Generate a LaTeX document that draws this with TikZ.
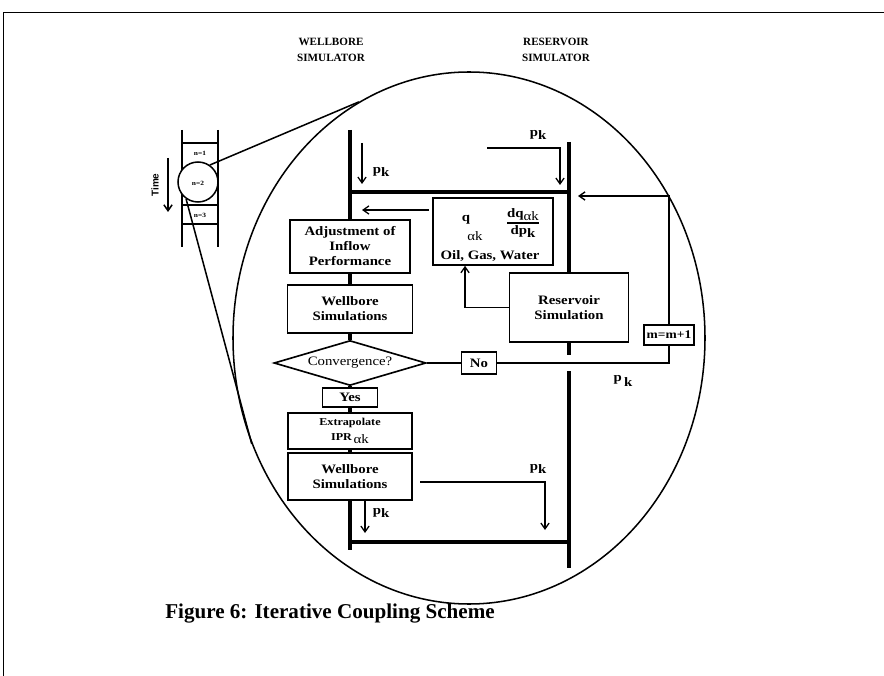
\documentclass[tikz,border=0pt]{standalone}
\usepackage{fontspec}
\setmainfont{Liberation Serif}
\setsansfont{Liberation Sans}
\newfontfamily\boxfont[FakeStretch=1.15]{Liberation Serif}
\usetikzlibrary{shapes.geometric,arrows.meta,calc}
\newcommand{\pk}{p\raisebox{-0.6ex}{k}}
\newcommand{\ak}{\raisebox{-0.7ex}{\mdseries\fontsize{11}{11}\selectfont αk}}

\begin{document}
\begin{tikzpicture}[x=0.03cm,y=-0.03cm,
    pipe/.style={line width=3.2pt},
    wire/.style={line width=1.2pt},
    arr/.style={line width=1.1pt,-{Straight Barb[length=5pt,width=7pt]}},
    sz/.style 2 args={minimum width=#1*0.03cm,minimum height=#2*0.03cm},
    flowbox/.style={draw,line width=1.4pt,fill=white,inner sep=0pt,align=center,
      font=\boxfont\bfseries\fontsize{11}{12.8}\selectfont},
    lbl/.style={inner sep=0pt,font=\boxfont\bfseries\fontsize{11}{12}\selectfont},
    head/.style={inner sep=0pt,align=center,font=\bfseries\fontsize{9.5}{13.5}\selectfont},
    tinylbl/.style={inner sep=0pt,font=\boxfont\bfseries\fontsize{5.5}{6}\selectfont}]

  \useasboundingbox (0,0) rectangle (884,676);
  % frame
  \draw[line width=0.8pt] (3,676) -- (3,12) -- (884,12);

  % column titles
  \node[head] (wbhead) at (331,50) {WELLBORE\\SIMULATOR};
  \node[head] (rshead) at (556,50) {RESERVOIR\\SIMULATOR};

  % zoomed view
  \node[draw,ellipse,line width=1.3pt,inner sep=0pt,sz={472}{532}] (zoomell) at (469,338) {};

  % time steps
  \draw[line width=1.3pt] (182,130) -- (182,247) (218,130) -- (218,247);
  \draw[line width=1.3pt] (182,143) -- (218,143) (182,205) -- (218,205) (182,224) -- (218,224);
  \node[tinylbl] (n1) at (200,153) {n=1};
  \node[draw,circle,fill=white,line width=1.3pt,inner sep=0pt,sz={40}{40}] (stepcirc) at (198,182) {};
  \node[tinylbl] (n2) at (198,183) {n=2};
  \node[tinylbl] (n3) at (200,215) {n=3};
  \draw[line width=1.3pt] (stepcirc.55) -- (zoomell.115);
  \draw[line width=1.3pt] (stepcirc.235) -- (zoomell.206);

  \coordinate (ttop) at (168,158);
  \coordinate (tbot) at (168,212);
  \draw[arr,line width=1.3pt] (ttop) -- (tbot);
  \node[rotate=90,inner sep=0pt,font=\sffamily\bfseries\fontsize{8.5}{9}\selectfont] (timelbl) at (155,185) {Time};

  % wellbore side
  \node[flowbox,sz={120}{53}] (adj) at (350,246.5) {Adjustment of\\Inflow\\Performance};
  \node[flowbox,sz={125}{48}] (wbs1) at (350,309) {Wellbore\\Simulations};
  \node[draw,diamond,aspect=3.4,line width=1.4pt,fill=white,inner sep=0pt,sz={152}{45},
        font=\boxfont\fontsize{11}{12}\selectfont] (conv) at (350,363) {Convergence?};
  \node[flowbox,sz={55}{19}] (yes) at (350,397.5) {Yes};
  \node[flowbox,sz={124}{36},font=\boxfont\bfseries\fontsize{9}{13}\selectfont] (extra) at (350,431) {Extrapolate\\IPR\,\ak};
  \node[flowbox,sz={124}{47}] (wbs2) at (350,476.5) {Wellbore\\Simulations};

  % reservoir side
  \node[flowbox,sz={120}{67}] (flux) at (493,231.5) {};
  \node[lbl] (qflux) at (466,220) {q};
  \node[inner sep=0pt,font=\boxfont\fontsize{11}{12}\selectfont] (qsub) at (475,236) {αk};
  \node[inner sep=0pt] (dfrac) at (523,223)
    {$\hbox{\boxfont\bfseries\fontsize{11}{12}\selectfont dq\raisebox{-0.5ex}{\mdseries αk}}\above1.2pt
      \hbox{\boxfont\bfseries\fontsize{11}{12}\selectfont dp\raisebox{-0.5ex}{k}}$};
  \node[lbl] (fluids) at (490,256) {Oil, Gas, Water};
  \node[flowbox,sz={119}{69}] (res) at (569,307.5) {Reservoir\\Simulation};
  \node[flowbox,sz={35}{22}] (no) at (479,363) {No};
  \node[flowbox,sz={50}{20},font=\boxfont\bfseries\fontsize{10}{11}\selectfont] (inc) at (669,335) {m=m+1};

  % pipes
  \coordinate (wtop) at (350,130);
  \coordinate (wcross) at (350,192);
  \coordinate (rcross) at (569,192);
  \coordinate (rtop) at (569,142);
  \coordinate (rgapa) at (569,355);
  \coordinate (rgapb) at (569,371);
  \coordinate (rbot) at (569,568);
  \coordinate (wbot) at (350,550);
  \coordinate (wbcross) at (350,542);
  \coordinate (rbcross) at (569,542);
  \draw[pipe] (wtop) -- (adj.north);
  \draw[pipe] (wcross) -- (rcross);
  \draw[pipe] (rtop) -- (res.north);
  \draw[pipe] (res.south) -- (rgapa);
  \draw[pipe] (rgapb) -- (rbot);
  \draw[pipe] (adj.south) -- (wbs1.north);
  \draw[pipe] (wbs1.south) -- (conv.north);
  \draw[pipe] (conv.south) -- (yes.north);
  \draw[pipe] (yes.south) -- (extra.north);
  \draw[pipe] (extra.south) -- (wbs2.north);
  \draw[pipe] (wbs2.south) -- (wbot);
  \draw[pipe] (wbcross) -- (rbcross);

  % pressure transfers
  \coordinate (pkin1) at (362,184);
  \draw[arr] (pkin1 |- wtop) ++(0,13) -- (pkin1);
  \node[lbl] (pk1) at (381,172) {\pk};
  \coordinate (pkout2) at (487,148);
  \coordinate (pkin2) at (560,185);
  \draw[arr] (pkout2) -| (pkin2);
  \node[lbl] (pk2) at (538,135) {\pk};

  \coordinate (fluxout) at (362,210);
  \draw[arr] (flux.west |- fluxout) ++(-3,0) -- (fluxout);
  \draw[arr] (res.west) -| ($(flux.south west)!0.27!(flux.south east)$);

  % loop back
  \coordinate (retin) at (578,196);
  \draw[wire] (conv.east) -- (no.west);
  \draw[wire] (no.east) -| (inc.south);
  \draw[arr,line width=1.2pt] (inc.north) |- (retin);
  \node[lbl] (pk3) at (623,381) {p\raisebox{-0.8ex}{\,k}};

  \coordinate (pkin4) at (365,533);
  \draw[arr] (wbs2.south -| pkin4) -- (pkin4);
  \node[lbl] (pk4) at (381,513) {\pk};
  \coordinate (pkout5) at (420,482);
  \coordinate (pkin5) at (545,530);
  \draw[arr] (pkout5) -| (pkin5);
  \node[lbl] (pk5) at (538,469) {\pk};

  % caption
  \node[inner sep=0pt,font=\bfseries\fontsize{18}{20}\selectfont] (caption) at (330,614)
    {Figure 6: Iterative Coupling Scheme};
\end{tikzpicture}
\end{document}
